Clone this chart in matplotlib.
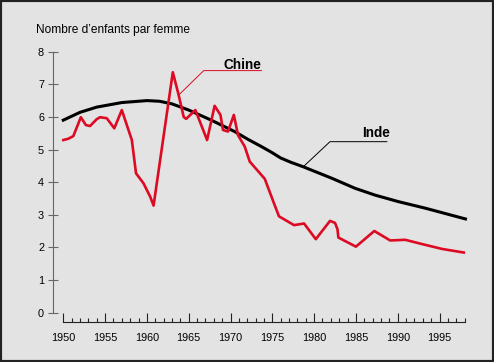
import matplotlib.pyplot as plt
from matplotlib.patches import Rectangle
from matplotlib.ticker import MultipleLocator

# Fécondité Chine / Inde
chine_annees = [1950.0, 1950.6, 1951.2, 1952.1, 1952.7, 1953.2, 1954.0, 1954.4,
                1955.2, 1956.1, 1957.0, 1958.2, 1958.7, 1959.6, 1960.4, 1960.8,
                1963.1, 1963.8, 1964.4, 1964.7, 1965.8, 1967.2, 1968.1, 1968.8,
                1969.1, 1969.7, 1970.4, 1970.9, 1971.7, 1972.3, 1974.1, 1975.2,
                1975.8, 1977.6, 1978.8, 1980.2, 1981.9, 1982.5, 1982.8, 1982.9,
                1985.0, 1987.2, 1989.1, 1990.9, 1992.9, 1995.3, 1997.9]
chine_valeurs = [5.29, 5.33, 5.41, 5.99, 5.75, 5.72, 5.93, 5.99,
                 5.96, 5.65, 6.21, 5.29, 4.27, 3.96, 3.55, 3.28,
                 7.37, 6.67, 6.00, 5.94, 6.21, 5.29, 6.34, 6.06,
                 5.60, 5.55, 6.06, 5.44, 5.09, 4.63, 4.10, 3.35,
                 2.95, 2.68, 2.73, 2.25, 2.81, 2.75, 2.55, 2.30,
                 2.02, 2.50, 2.21, 2.23, 2.10, 1.95, 1.84]

inde_annees = [1950.0, 1952.0, 1954.0, 1957.0, 1960.0, 1961.5, 1963.0, 1965.0,
               1967.7, 1970.5, 1972.1, 1973.7, 1975.0, 1976.0, 1977.2, 1978.7,
               1982.1, 1984.9, 1987.3, 1990.1, 1993.3, 1998.1]
inde_valeurs = [5.90, 6.14, 6.30, 6.44, 6.50, 6.48, 6.40, 6.21,
                5.90, 5.55, 5.31, 5.09, 4.90, 4.74, 4.61, 4.47,
                4.12, 3.81, 3.60, 3.40, 3.20, 2.87]

y_ticks = [0, 1, 2, 3, 4, 5, 6, 7, 8]
x_ticks = list(range(1950, 2000, 5))

fond = "#e3e3e3"
rouge = "#dc0a23"

plt.rcParams["font.family"] = ["Liberation Sans", "DejaVu Sans"]

fig = plt.figure(figsize=(4.94, 3.62), dpi=100, facecolor=fond)
ax = fig.add_axes([0.1281, 0.1367, 0.8124, 0.7205])
ax.set_facecolor(fond)

ax.plot(inde_annees, inde_valeurs, color="black", lw=2.2, solid_joinstyle="round",
        clip_on=False, zorder=3)
ax.plot(chine_annees, chine_valeurs, color=rouge, lw=1.9, solid_joinstyle="round",
        clip_on=False, zorder=4)

# étiquettes avec filet
i_ch = chine_annees.index(1963.8)
ax.plot([chine_annees[i_ch], 1966.8, 1973.7], [chine_valeurs[i_ch], 7.42, 7.42],
        color=rouge, lw=0.7, clip_on=False)
ax.text(1973.7, 7.48, "Chine", ha="right", va="baseline", fontsize=9.8,
        fontweight="bold")

i_in = inde_annees.index(1978.7)
ax.plot([inde_annees[i_in], 1981.9, 1988.7], [inde_valeurs[i_in], 5.24, 5.24],
        color="black", lw=0.7, clip_on=False)
ax.text(1989.1, 5.37, "Inde", ha="right", va="baseline", fontsize=9.8,
        fontweight="bold")

ax.set_xlim(1950, 1998)
ax.set_ylim(0, 8)

for side in ["top", "right"]:
    ax.spines[side].set_visible(False)
ax.spines["left"].set_position(("outward", 7.6))
ax.spines["left"].set_bounds(0, 8)
ax.spines["left"].set_color("#666666")
ax.spines["bottom"].set_position(("outward", 6.8))
ax.spines["bottom"].set_bounds(1950, 1998)
ax.spines["bottom"].set_color("#222222")

ax.set_yticks(y_ticks)
ax.set_xticks(x_ticks)
ax.xaxis.set_minor_locator(MultipleLocator(1))
ax.tick_params(axis="y", direction="inout", length=6.5, width=0.8, color="#666666",
               labelsize=7.8, pad=3)
ax.tick_params(axis="x", which="major", direction="in", length=6.2, width=0.8,
               color="#222222", labelsize=7.8, pad=8)
ax.tick_params(axis="x", which="minor", direction="in", length=3, width=0.8,
               color="#222222")

fig.text(35.7 / 494, 0.909, "Nombre d\u2019enfants par femme", fontsize=8.6,
         ha="left", va="baseline")

fig.patches.append(Rectangle((0, 0), 1, 1, transform=fig.transFigure, fill=False,
                             lw=3, ec="#222222"))

fig.savefig("out.png", dpi=100, facecolor=fond)
